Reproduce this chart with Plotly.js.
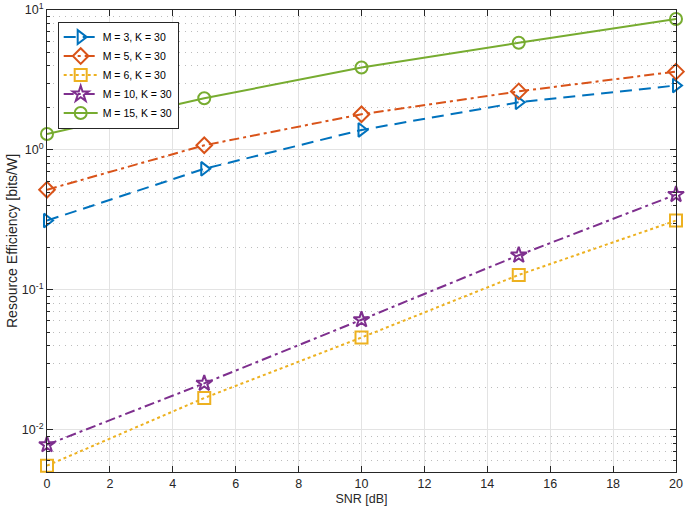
<!DOCTYPE html>
<html>
<head>
<meta charset="utf-8">
<script src="https://cdn.plot.ly/plotly-3.0.1.min.js"></script>
<style>
  html,body{margin:0;padding:0;background:#fff;}
  #chart{width:685px;height:509px;}
</style>
</head>
<body>
<div id="chart"></div>
<script>
// SNR values (dB)
const snr = [0, 5, 10, 15, 20];

// resource efficiency [bits/W] per configuration
const effM3  = [0.313, 0.733, 1.39, 2.19, 2.89];
const effM5  = [0.52, 1.08, 1.80, 2.62, 3.63];
const effM6  = [0.00555, 0.0169, 0.0457, 0.128, 0.313];
const effM10 = [0.00783, 0.0215, 0.0612, 0.177, 0.48];
const effM15 = [1.30, 2.34, 3.88, 5.83, 8.63];

const names = ['M = 3, K = 30','M = 5, K = 30','M = 6, K = 30','M = 10, K = 30','M = 15, K = 30'];
const yTickVals = [0.01, 0.1, 1, 10];
const yTickText = ['10<sup>-2</sup>','10<sup>-1</sup>','10<sup>0</sup>','10<sup>1</sup>'];

function series(y, name, color, dash, symbol){
  return {
    x: snr, y: y, name: name, type:'scatter', mode:'lines+markers',
    cliponaxis:false,
    line:{color:color, width:2, dash:dash},
    marker:{symbol:symbol, size:12, color:color, line:{color:color, width:2}}
  };
}

const traces = [
  series(effM3,  names[0], '#0072BD', '12px,7px', 'triangle-right-open'),
  series(effM5,  names[1], '#D95319', '10px,4px,3px,4px', 'diamond-open'),
  series(effM6,  names[2], '#EDB120', '3px,3px', 'square-open'),
  series(effM10, names[3], '#7E2F8E', '10px,4px,3px,4px', 'star-open'),
  series(effM15, names[4], '#77AC30', 'solid', 'circle-open')
];

const axisCommon = {
  showline:true, linecolor:'#262626', linewidth:1, mirror:'ticks',
  ticks:'inside', ticklen:6, tickcolor:'#262626',
  gridcolor:'#e3e3e3', gridwidth:1, zeroline:false,
  ticklabeloverflow:'allow',
  tickfont:{family:'Liberation Sans, Arial, sans-serif', size:12.5, color:'#262626'}
};

const layout = {
  width:685, height:509,
  margin:{l:47, r:9, t:10, b:37},
  paper_bgcolor:'#fff', plot_bgcolor:'#fff',
  font:{family:'Liberation Sans, Arial, sans-serif', color:'#262626'},
  showlegend:true,
  legend:{
    x:0.017, y:0.975, xanchor:'left', yanchor:'top',
    bgcolor:'#fff', bordercolor:'#262626', borderwidth:1,
    font:{size:10.5, color:'#000'}, tracegroupgap:0, itemwidth:34
  },
  xaxis: Object.assign({}, axisCommon, {
    range:[0, 20], dtick:2, tick0:0,
    title:{text:'SNR [dB]', standoff:4, font:{size:12.5, color:'#262626'}}
  }),
  yaxis: Object.assign({}, axisCommon, {
    type:'log', range:[Math.log10(0.005), 1],
    tickvals:yTickVals, ticktext:yTickText,
    minor:{dtick:'D1', ticks:'inside', ticklen:3, tickcolor:'#262626', showgrid:true, griddash:'1px,5px', gridcolor:'#bcbcbc'},
    title:{text:'Resource Efficiency [bits/W]', standoff:0, font:{size:14, color:'#262626'}}
  })
};

Plotly.newPlot('chart', traces, layout, {displayModeBar:false, staticPlot:true});
</script>
</body>
</html>
